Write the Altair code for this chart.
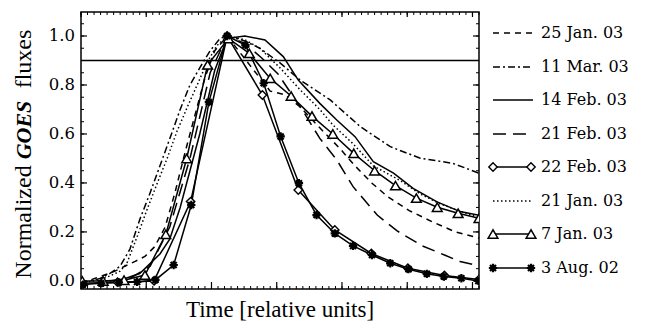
import altair as alt
import pandas as pd

# ---------------- data ----------------
labels = ["25 Jan. 03", "11 Mar. 03", "14 Feb. 03", "21 Feb. 03",
          "22 Feb. 03", "21 Jan. 03", " 7 Jan. 03", "3 Aug. 02"]

jan25_x = [0.0, 2.1, 3.7, 5.2, 6.7, 8.3, 9.8, 11.3, 12.9, 14.4, 15.9, 17.5, 19.0, 20.5, 22.4,
           25.9, 29.0, 31.3, 33.6, 36.6, 39.7, 42.0, 44.6, 47.0, 50.3, 53.8, 57.3, 61.0]
jan25_y = [-0.01, 0.01, 0.025, 0.04, 0.06, 0.08, 0.10, 0.14, 0.22, 0.36, 0.52, 0.68, 0.83, 0.94, 1.0,
           0.88, 0.775, 0.76, 0.71, 0.625, 0.54, 0.47, 0.399, 0.344, 0.287, 0.242, 0.201, 0.175]

mar11_x = [0.0, 2.9, 4.4, 6.0, 7.5, 9.0, 10.6, 12.1, 13.6, 15.2, 16.7, 18.2, 19.8, 21.3, 22.4,
           25.1, 27.4, 30.5, 33.6, 38.2, 42.8, 47.4, 52.0, 57.0, 61.0]
mar11_y = [-0.01, 0.01, 0.03, 0.06, 0.13, 0.25, 0.36, 0.47, 0.58, 0.70, 0.80, 0.87, 0.94, 0.99, 1.0,
           0.98, 0.95, 0.89, 0.82, 0.739, 0.63, 0.548, 0.501, 0.48, 0.44]

feb14_x = [2.9, 6.0, 9.0, 12.1, 13.6, 15.2, 18.2, 20.5, 22.4, 25.1, 28.2, 31.0, 33.3, 36.6,
           39.2, 42.0, 44.8, 47.9, 50.9, 54.5, 58.1, 61.0]
feb14_y = [0.0, 0.003, 0.03, 0.11, 0.17, 0.30, 0.60, 0.86, 0.99, 1.0, 0.984, 0.916, 0.82, 0.725,
           0.657, 0.589, 0.487, 0.44, 0.378, 0.324, 0.283, 0.268]

feb21_x = [4.4, 7.5, 10.6, 13.6, 16.7, 19.8, 22.4, 25.1, 27.7, 30.2, 34.3, 36.6, 39.2, 41.7,
           45.4, 48.4, 52.3, 55.8, 58.1, 61.0]
feb21_y = [0.0, 0.01, 0.06, 0.22, 0.50, 0.85, 1.0, 0.97, 0.91, 0.845, 0.682, 0.582, 0.494, 0.385,
           0.269, 0.205, 0.143, 0.105, 0.079, 0.062]

feb22_x = [0.0, 5.6, 11.2, 16.8, 22.4, 27.8, 33.3, 38.9, 44.5, 50.1, 55.7, 61.0]
feb22_y = [-0.01, -0.005, 0.0, 0.324, 1.0, 0.759, 0.371, 0.208, 0.112, 0.052, 0.022, 0.006]

jan21_x = [0.0, 2.9, 4.4, 6.0, 7.0, 8.6, 10.1, 11.7, 13.2, 14.7, 16.3, 17.8, 19.3, 20.8, 22.4,
           25.1, 27.4, 30.5, 33.6, 36.6, 38.6, 41.7, 44.8, 48.9, 52.0, 55.0, 58.1, 61.0]
jan21_y = [-0.01, 0.005, 0.02, 0.04, 0.07, 0.18, 0.29, 0.40, 0.50, 0.61, 0.71, 0.80, 0.89, 0.96, 1.0,
           0.985, 0.95, 0.87, 0.78, 0.70, 0.637, 0.56, 0.47, 0.41, 0.355, 0.315, 0.285, 0.258]

jan7_x = [0.2, 3.4, 6.6, 9.8, 13.0, 16.2, 19.4, 22.6, 25.8, 29.0, 32.2, 35.4, 38.6, 41.8,
          45.0, 48.2, 51.4, 54.6, 57.8, 61.0]
jan7_y = [0.0, 0.0, 0.003, 0.024, 0.19, 0.50, 0.882, 0.99, 0.929, 0.827, 0.755, 0.673, 0.60, 0.521,
          0.45, 0.389, 0.338, 0.301, 0.276, 0.256]

aug3_x = [0.3, 3.1, 5.8, 8.6, 11.4, 14.2, 16.9, 19.6, 22.4, 25.2, 28.0, 30.6, 33.4, 36.1, 38.9,
          41.7, 44.6, 47.4, 50.2, 53.0, 55.6, 58.3, 60.9]
aug3_y = [-0.015, -0.01, -0.006, -0.004, 0.004, 0.065, 0.31, 0.73, 1.0, 0.963, 0.807, 0.59, 0.399,
          0.269, 0.194, 0.143, 0.106, 0.072, 0.048, 0.029, 0.018, 0.011, 0.0]

threshold = 0.9
y_major = [0.0, 0.2, 0.4, 0.6, 0.8, 1.0]
y_minor = [round(0.05 * i, 2) for i in range(22)]
x_major = [0, 10, 20, 30, 40, 50, 60]
x_minor = list(range(0, 62))
x_title = "Time [relative units]"
y_title = ["Normalized", "GOES", "fluxes"]

# ---------------- styling ----------------
W, H = 398, 277
xs = alt.Scale(domain=[0, 61], nice=False, zero=False)
ys = alt.Scale(domain=[-0.033, 1.098], nice=False, zero=False)
SERIF = "Liberation Serif"
LABF = "DejaVu Serif"
LW = 1.5

ASTER = "M-1,0L1,0M0,-1L0,1M-0.72,-0.72L0.72,0.72M-0.72,0.72L0.72,-0.72"

series = [
    (labels[0], jan25_x, jan25_y, [6, 5], None),
    (labels[1], mar11_x, mar11_y, [7, 3, 2, 3], None),
    (labels[2], feb14_x, feb14_y, None, None),
    (labels[3], feb21_x, feb21_y, [13, 7], None),
    (labels[4], feb22_x, feb22_y, None, "diamond"),
    (labels[5], jan21_x, jan21_y, [1.5, 2.5], None),
    (labels[6], jan7_x, jan7_y, None, "triangle-up"),
    (labels[7], aug3_x, aug3_y, None, "aster"),
]

legend_rows = [21, 55, 88, 122, 155, 189, 222, 256]
dummy = pd.DataFrame({"a": [0]})


def marker_kw(kind):
    if kind == "diamond":
        return dict(shape="diamond", size=70, filled=True, fill="white", stroke="black",
                    strokeWidth=1.4, opacity=1)
    if kind == "triangle-up":
        return dict(shape="triangle-up", size=95, filled=True, fill="white", stroke="black",
                    strokeWidth=1.5, opacity=1)
    return dict(shape=ASTER, size=70, filled=False, stroke="black", strokeWidth=2.2, opacity=1)


X = lambda f="v": alt.X(f + ":Q", scale=xs, axis=None)
Y = lambda f="v": alt.Y(f + ":Q", scale=ys, axis=None)

layers = []

# ticks (inward, mirrored)
ymaj = pd.DataFrame({"v": y_major})
ymin = pd.DataFrame({"v": y_minor})
xmaj = pd.DataFrame({"v": x_major})
xmin = pd.DataFrame({"v": x_minor})

for d, a, b, sw in [(ymaj, 0, 6, 1.2), (ymaj, W - 6, W, 1.2), (ymin, 0, 3, 1.0), (ymin, W - 3, W, 1.0)]:
    layers.append(alt.Chart(d).mark_rule(color="black", strokeWidth=sw).encode(
        y=Y(), x=alt.value(a), x2=alt.value(b)))
for d, a, b, sw in [(xmaj, H - 7, H, 1.2), (xmaj, 0, 5, 1.2), (xmin, H - 3, H, 1.0), (xmin, 0, 3, 1.0)]:
    layers.append(alt.Chart(d).mark_rule(color="black", strokeWidth=sw).encode(
        x=X(), y=alt.value(a), y2=alt.value(b)))

# y tick labels
layers.append(alt.Chart(ymaj).mark_text(
    align="right", baseline="middle", dx=-6, font=LABF, fontSize=16.5, color="black").encode(
    y=Y(), x=alt.value(0), text=alt.Text("v:Q", format=".1f")))

# threshold line
layers.append(alt.Chart(pd.DataFrame({"v": [threshold]})).mark_rule(
    color="black", strokeWidth=1.3).encode(y=Y()))

# curves
for name, xv, yv, dash, mk in series:
    df = pd.DataFrame({"x": xv, "y": yv})
    kw = dict(color="black", strokeWidth=LW, clip=True)
    if dash is not None:
        kw["strokeDash"] = dash
    layers.append(alt.Chart(df).mark_line(**kw).encode(x=X("x"), y=Y("y")))
for name, xv, yv, dash, mk in series:
    if mk is None:
        continue
    df = pd.DataFrame({"x": xv, "y": yv})
    layers.append(alt.Chart(df).mark_point(clip=True, **marker_kw(mk)).encode(x=X("x"), y=Y("y")))

# legend (drawn to the right of the plot)
for (name, xv, yv, dash, mk), ry in zip(series, legend_rows):
    kw = dict(color="black", strokeWidth=LW)
    if dash is not None:
        kw["strokeDash"] = dash
    layers.append(alt.Chart(dummy).mark_rule(**kw).encode(
        x=alt.value(412), x2=alt.value(452), y=alt.value(ry)))
    if mk is not None:
        for px in (412, 450):
            layers.append(alt.Chart(dummy).mark_point(**marker_kw(mk)).encode(
                x=alt.value(px), y=alt.value(ry)))
    layers.append(alt.Chart(dummy).mark_text(
        text=name, align="left", baseline="middle", font=LABF, fontSize=16,
        color="black").encode(x=alt.value(460), y=alt.value(ry)))

# x title
layers.append(alt.Chart(dummy).mark_text(
    text=x_title, align="center", baseline="middle", font=SERIF, fontSize=23,
    color="black").encode(x=alt.value(199), y=alt.value(298)))

# y title with bold-italic GOES
layers.append(alt.Chart(dummy).mark_text(
    text=y_title[0], angle=270, align="center", baseline="middle", font=SERIF,
    fontSize=24, color="black").encode(x=alt.value(-57), y=alt.value(210)))
layers.append(alt.Chart(dummy).mark_text(
    text=y_title[1], angle=270, align="center", baseline="middle", font=SERIF,
    fontSize=22, fontWeight="bold", fontStyle="italic", color="black").encode(
    x=alt.value(-57), y=alt.value(118)))
layers.append(alt.Chart(dummy).mark_text(
    text=y_title[2], angle=270, align="center", baseline="middle", font=SERIF,
    fontSize=24, color="black").encode(x=alt.value(-57), y=alt.value(47)))

chart = alt.layer(*layers).properties(
    width=W, height=H,
    autosize=alt.AutoSizeParams(type="none"),
    padding={"left": 73, "top": 4, "right": 160, "bottom": 35},
    background="white",
).configure_view(stroke="black", strokeWidth=1.5)

chart.save("out.html", embed_options={"renderer": "svg", "actions": False})
